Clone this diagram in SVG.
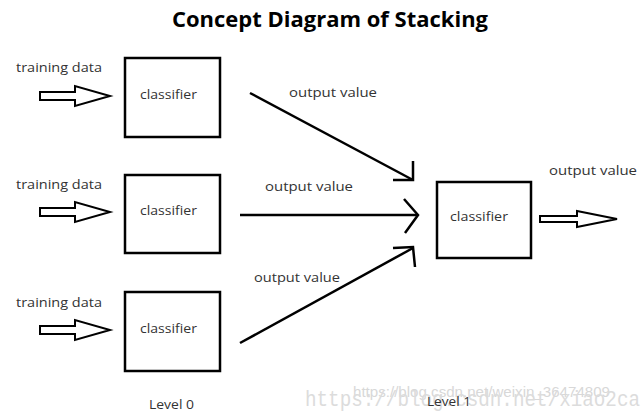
<svg xmlns="http://www.w3.org/2000/svg" width="643" height="412" viewBox="0 0 643 412">
<style>
.t{font-family:"Open Sans","Liberation Sans",sans-serif;font-size:13px;fill:#333}
.box{fill:#fff;stroke:#000;stroke-width:2.5}
.hol{fill:#fff;stroke:#000;stroke-width:2;stroke-linejoin:miter}
.ln{fill:none;stroke:#000;stroke-width:2.5}
.wm{font-family:"Liberation Sans",sans-serif;fill:#d8d8d8}
</style>
<rect width="643" height="412" fill="#fff"/>
<text x="330" y="27" text-anchor="middle" font-family="'Open Sans','Liberation Sans',sans-serif" font-weight="bold" font-size="21" fill="#000" textLength="316" lengthAdjust="spacingAndGlyphs">Concept Diagram of Stacking</text>

<g id="watermark">
<text class="wm" x="353" y="397" font-size="14" textLength="257" lengthAdjust="spacingAndGlyphs">https://blog.csdn.net/weixin_36474809</text>
<text x="305" y="406" font-family="'Liberation Mono',monospace" font-size="22" fill="#dcdcdc" textLength="335" lengthAdjust="spacingAndGlyphs">https://blog.csdn.net/xiao2ca</text>
</g>

<g id="input1">
<text class="t" x="16" y="72" textLength="86" lengthAdjust="spacingAndGlyphs">training data</text>
<polygon class="hol" points="40,92 75,92 75,86 110,96 75,106 75,100 40,100"/>
</g>
<g id="input2">
<text class="t" x="16" y="189" textLength="86" lengthAdjust="spacingAndGlyphs">training data</text>
<polygon class="hol" points="40,208 75,208 75,202 110,212 75,222 75,216 40,216"/>
</g>
<g id="input3">
<text class="t" x="16" y="307" textLength="86" lengthAdjust="spacingAndGlyphs">training data</text>
<polygon class="hol" points="40,326 75,326 75,320 110,330 75,340 75,334 40,334"/>
</g>

<g id="classifier1">
<rect class="box" x="125" y="58" width="95" height="79"/>
<text class="t" x="140" y="99" textLength="57" lengthAdjust="spacingAndGlyphs">classifier</text>
</g>
<g id="classifier2">
<rect class="box" x="125" y="175" width="95" height="78"/>
<text class="t" x="140" y="215" textLength="57" lengthAdjust="spacingAndGlyphs">classifier</text>
</g>
<g id="classifier3">
<rect class="box" x="125" y="292" width="95" height="79"/>
<text class="t" x="140" y="333" textLength="57" lengthAdjust="spacingAndGlyphs">classifier</text>
</g>
<g id="classifier-level1">
<rect class="box" x="437" y="182" width="94" height="76"/>
<text class="t" x="450" y="221" textLength="58" lengthAdjust="spacingAndGlyphs">classifier</text>
</g>

<g id="connectors">
<line class="ln" x1="250" y1="93" x2="413" y2="180"/>
<polyline class="ln" points="413,161 413,180 393,180"/>
<line class="ln" x1="240" y1="215" x2="417" y2="215"/>
<polyline class="ln" points="404,199 418,215 405,233"/>
<line class="ln" x1="240" y1="343" x2="413" y2="248"/>
<polyline class="ln" points="393,248 413,247 415,267"/>
<polygon class="hol" points="540,216 577,216 577,211 617,219 577,227 577,222 540,222"/>
</g>

<g id="labels">
<text class="t" x="289" y="97" textLength="88" lengthAdjust="spacingAndGlyphs">output value</text>
<text class="t" x="265" y="191" textLength="88" lengthAdjust="spacingAndGlyphs">output value</text>
<text class="t" x="254" y="282" textLength="86" lengthAdjust="spacingAndGlyphs">output value</text>
<text class="t" x="549" y="175" textLength="88" lengthAdjust="spacingAndGlyphs">output value</text>
<text class="t" x="149" y="409" textLength="45" lengthAdjust="spacingAndGlyphs">Level 0</text>
<text class="t" x="427" y="406" textLength="44" lengthAdjust="spacingAndGlyphs">Level 1</text>
</g>
</svg>
